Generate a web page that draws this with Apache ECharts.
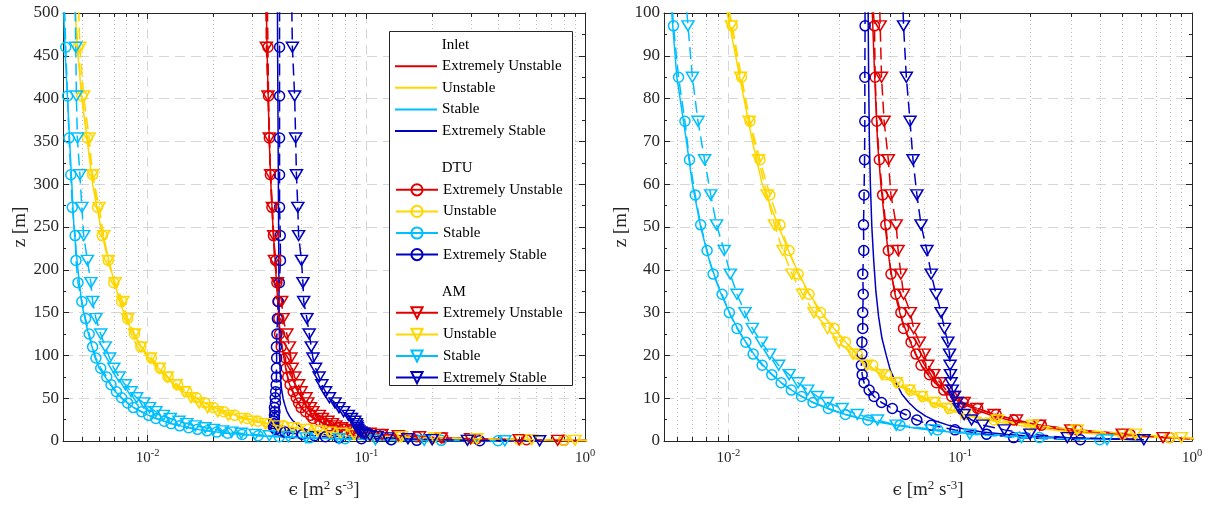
<!DOCTYPE html>
<html>
<head>
<meta charset="utf-8">
<script src="https://cdn.jsdelivr.net/npm/echarts@6/dist/echarts.min.js"></script>
<style>
  html, body { margin: 0; padding: 0; background: #ffffff; }
  #chart { width: 1210px; height: 506px; }
</style>
</head>
<body>
<div id="chart"></div>
<script>
// ---- Heights [m] of the simulated cell centres (DTU and AM share the mesh) ----
const zLevels = [525, 460, 403, 354, 311, 273, 240, 211, 185, 163, 143, 125, 110, 97, 85, 74.7, 65.7, 57.5, 50.5, 44.5,
  39, 34.3, 30, 26.3, 23.1, 20.3, 17.7, 15.5, 13.6, 11.9, 10.4, 9.0, 7.6, 6.2, 4.9, 3.7, 2.6, 1.6, 0.8, 0.3];

// ---- Heights [m] of the inlet profiles ----
const inletZ = [525, 450, 400, 350, 300, 250, 200, 160, 130, 100, 85, 70, 60, 50, 42, 35, 29, 24, 20, 16.5,
  13.5, 11, 9, 7.2, 5.8, 4.6, 3.6, 2.8, 2.1, 1.5, 1.0, 0.7, 0.5, 0.3];

// ---- Dissipation rate epsilon [m^2 s^-3] ----
const inletExtUnstable = [0.0348, 0.0352, 0.0356, 0.036, 0.0366, 0.0374, 0.0385, 0.0394, 0.0402, 0.0418,
  0.0428, 0.044, 0.0455, 0.0475, 0.0495, 0.052, 0.0555, 0.06, 0.0645, 0.07,
  0.078, 0.088, 0.1, 0.118, 0.14, 0.17, 0.21, 0.26, 0.33, 0.44, 0.62, 0.85, 1.15, 1.9];
const inletUnstable = [0.0046, 0.0048, 0.005, 0.0053, 0.0056, 0.0061, 0.0068, 0.0075, 0.0084, 0.0099,
  0.0112, 0.0127, 0.014, 0.0165, 0.019, 0.022, 0.026, 0.031, 0.036, 0.043,
  0.052, 0.063, 0.075, 0.09, 0.11, 0.14, 0.18, 0.23, 0.3, 0.42, 0.6, 0.85, 1.15, 1.9];
const inletStable = [0.0041, 0.0042, 0.0043, 0.0044, 0.0045, 0.0046, 0.0048, 0.005, 0.0053, 0.0057,
  0.006, 0.0066, 0.007, 0.0076, 0.0083, 0.0092, 0.0103, 0.0116, 0.013, 0.0148,
  0.017, 0.0198, 0.0232, 0.028, 0.034, 0.042, 0.054, 0.068, 0.09, 0.125, 0.19, 0.27, 0.38, 0.62];
const inletExtStable = [0.0392, 0.0393, 0.0394, 0.0395, 0.0396, 0.0397, 0.0398, 0.0399, 0.04, 0.0401,
  0.0403, 0.0406, 0.041, 0.0416, 0.0424, 0.0433, 0.0445, 0.046, 0.048, 0.05,
  0.053, 0.056, 0.06, 0.065, 0.071, 0.079, 0.09, 0.104, 0.125, 0.16, 0.22, 0.3, 0.4, 0.62];

const dtuExtUnstable = [0.0352, 0.0355, 0.0357, 0.036, 0.0364, 0.037, 0.0376, 0.0385, 0.039, 0.0394,
  0.0398, 0.0401, 0.0408, 0.0427, 0.043, 0.0437, 0.0448, 0.0463, 0.0478, 0.049,
  0.0503, 0.0528, 0.0555, 0.057, 0.0614, 0.0645, 0.0678, 0.0737, 0.079, 0.085,
  0.092, 0.103, 0.119, 0.143, 0.17, 0.224, 0.32, 0.54, 0.8, 1.2];
const dtuUnstable = [0.0046, 0.0048, 0.005, 0.0053, 0.0056, 0.0059, 0.0062, 0.0066, 0.007, 0.0076,
  0.0081, 0.0087, 0.0093, 0.0104, 0.0114, 0.0124, 0.0137, 0.0151, 0.0167, 0.0183,
  0.02, 0.0223, 0.025, 0.0286, 0.032, 0.036, 0.042, 0.048, 0.054, 0.061,
  0.069, 0.078, 0.09, 0.105, 0.14, 0.2, 0.3, 0.5, 0.8, 1.3];
const dtuStable = [0.00415, 0.00422, 0.0043, 0.00437, 0.00445, 0.00452, 0.00466, 0.0047, 0.0048, 0.005,
  0.0052, 0.0054, 0.0056, 0.0058, 0.0061, 0.0065, 0.0068, 0.0072, 0.0076, 0.0081,
  0.0086, 0.0094, 0.0101, 0.0109, 0.0119, 0.0128, 0.014, 0.0154, 0.0169, 0.0187,
  0.0207, 0.0232, 0.027, 0.032, 0.04, 0.055, 0.08, 0.13, 0.22, 0.4];
const dtuExtStable = [0.0401, 0.0401, 0.0401, 0.0401, 0.0401, 0.0401, 0.0404, 0.0405, 0.04, 0.0396,
  0.0392, 0.039, 0.0388, 0.0389, 0.0388, 0.0388, 0.0387, 0.0385, 0.0383, 0.0384,
  0.038, 0.0382, 0.038, 0.038, 0.0377, 0.0377, 0.0375, 0.0378, 0.0385, 0.0405,
  0.0425, 0.0458, 0.051, 0.058, 0.065, 0.075, 0.095, 0.13, 0.17, 0.33];

const amExtUnstable = [0.0347, 0.0349, 0.0355, 0.036, 0.0365, 0.0372, 0.0377, 0.038, 0.0392, 0.041,
  0.0416, 0.0433, 0.0445, 0.0452, 0.0458, 0.047, 0.049, 0.0503, 0.053, 0.054,
  0.0555, 0.057, 0.061, 0.063, 0.0667, 0.07, 0.0725, 0.077, 0.082, 0.087,
  0.094, 0.104, 0.118, 0.14, 0.175, 0.22, 0.3, 0.5, 0.75, 1.1];
const amUnstable = [0.0048, 0.0049, 0.0051, 0.0054, 0.0056, 0.006, 0.0063, 0.0066, 0.0071, 0.0077,
  0.0081, 0.0087, 0.0093, 0.0103, 0.0113, 0.0123, 0.0135, 0.0147, 0.0158, 0.0172,
  0.0188, 0.0209, 0.0234, 0.0268, 0.03, 0.0345, 0.0395, 0.046, 0.053, 0.06,
  0.068, 0.077, 0.088, 0.105, 0.145, 0.205, 0.32, 0.57, 0.9, 1.4];
const amStable = [0.00465, 0.00469, 0.00472, 0.00477, 0.0049, 0.005, 0.0051, 0.0053, 0.0055, 0.0056,
  0.0058, 0.0061, 0.0064, 0.0067, 0.007, 0.0074, 0.0079, 0.0084, 0.0089, 0.0096,
  0.0102, 0.0109, 0.0118, 0.0127, 0.0139, 0.0151, 0.0165, 0.0183, 0.02, 0.022,
  0.0242, 0.0268, 0.031, 0.036, 0.044, 0.053, 0.075, 0.11, 0.184, 0.43];
const amExtStable = [0.0455, 0.0459, 0.047, 0.0475, 0.0479, 0.0486, 0.049, 0.0505, 0.0513, 0.0517,
  0.0535, 0.0548, 0.056, 0.057, 0.0586, 0.0608, 0.0626, 0.0651, 0.0678, 0.0719,
  0.075, 0.0787, 0.0828, 0.0855, 0.0885, 0.09, 0.0905, 0.0908, 0.0914, 0.0925,
  0.0945, 0.097, 0.099, 0.104, 0.112, 0.125, 0.155, 0.2, 0.29, 0.62];

// ---- Stability classes and legend groups ----
const conditionNames = ['Extremely Unstable', 'Unstable', 'Stable', 'Extremely Stable'];
const conditionColors = ['#e00000', '#ffd700', '#00bfff', '#0000bf'];
const groupNames = ['Inlet', 'DTU', 'AM'];

// ---- Minor (2..9 x 10^n) positions on the log axes ----
const minorTicksLeft = [0.005, 0.006, 0.007, 0.008, 0.009, 0.02, 0.03, 0.04, 0.05, 0.06, 0.07, 0.08, 0.09,
  0.2, 0.3, 0.4, 0.5, 0.6, 0.7, 0.8, 0.9];
const minorTicksRight = [0.006, 0.007, 0.008, 0.009, 0.02, 0.03, 0.04, 0.05, 0.06, 0.07, 0.08, 0.09,
  0.2, 0.3, 0.4, 0.5, 0.6, 0.7, 0.8, 0.9];

// ---- Styling ----
const FONT = "'Liberation Serif', 'DejaVu Serif', serif";
const AXIS = '#262626';
const GRID = '#d6d6d6';
const MINOR_GRID = '#bdbdbd';

const groups = [
  { key: groupNames[0], z: inletZ, sets: [inletExtUnstable, inletUnstable, inletStable, inletExtStable],
    symbol: 'none', size: 0, rotate: 0, dashed: false },
  { key: groupNames[1], z: zLevels, sets: [dtuExtUnstable, dtuUnstable, dtuStable, dtuExtStable],
    symbol: 'circle', size: 10, rotate: 0, dashed: true },
  { key: groupNames[2], z: zLevels, sets: [amExtUnstable, amUnstable, amStable, amExtStable],
    symbol: 'triangle', size: [12, 10], rotate: 180, dashed: true }
];

const panels = [
  { xMin: 0.0041, yMax: 500, yStep: 50, minor: minorTicksLeft, grid: { left: 63, top: 13, width: 522, height: 428 } },
  { xMin: 0.00528, yMax: 100, yStep: 10, minor: minorTicksRight, grid: { left: 664, top: 13, width: 528, height: 428 } }
];

function pairs(xs, zs) { return xs.map((x, i) => [x, zs[i]]); }

function decadeLabel(v) {
  const e = Math.log10(v);
  const r = Math.round(e);
  if (Math.abs(e - r) > 1e-6) return '';
  return '{b|10}{s|' + r + '}';
}

// Dotted minor grid line plus inward minor ticks on bottom and top border
function minorGridItem(params, api) {
  const lo = api.coord([api.value(0), api.value(1)]);
  const hi = api.coord([api.value(0), api.value(2)]);
  const x = Math.round(lo[0]) + 0.5;
  return {
    type: 'group',
    children: [
      { type: 'line', shape: { x1: x, y1: lo[1], x2: x, y2: hi[1] },
        style: { stroke: MINOR_GRID, lineWidth: 1, lineDash: [1, 3] } },
      { type: 'line', shape: { x1: x, y1: lo[1], x2: x, y2: lo[1] - 4 },
        style: { stroke: AXIS, lineWidth: 1 } },
      { type: 'line', shape: { x1: x, y1: hi[1], x2: x, y2: hi[1] + 4 },
        style: { stroke: AXIS, lineWidth: 1 } }
    ]
  };
}

const tickRich = {
  b: { fontFamily: FONT, fontSize: 15, color: AXIS },
  s: { fontFamily: FONT, fontSize: 10.5, color: AXIS, padding: [0, 0, 9, 0] }
};
const nameRich = {
  e: { fontFamily: "'DejaVu Serif', serif", fontSize: 17, color: AXIS },
  s: { fontFamily: FONT, fontSize: 13, color: AXIS, padding: [0, 0, 10, 0] }
};

const grids = [], xAxes = [], yAxes = [], series = [];

panels.forEach((p, pi) => {
  grids.push(Object.assign({ containLabel: false }, p.grid));

  // bottom (labelled) and top (box) log axes
  xAxes.push({
    type: 'log', logBase: 10, gridIndex: pi, min: p.xMin, max: 1, position: 'bottom',
    axisLine: { show: true, onZero: false, lineStyle: { color: AXIS, width: 1 } },
    axisTick: { show: true, inside: true, length: 6, lineStyle: { color: AXIS } },
    axisLabel: { show: true, margin: 7, formatter: decadeLabel, rich: tickRich },
    splitLine: { show: true, lineStyle: { color: GRID, width: 1, type: [10, 6] } },
    name: '{e|ϵ} [m{s|2} s{s|-3}]', nameLocation: 'middle', nameGap: 38,
    nameTextStyle: { fontFamily: FONT, fontSize: 19, color: AXIS, rich: nameRich }
  });
  xAxes.push({
    type: 'log', logBase: 10, gridIndex: pi, min: p.xMin, max: 1, position: 'top',
    axisLine: { show: true, onZero: false, lineStyle: { color: AXIS, width: 1 } },
    axisTick: { show: true, inside: true, length: 6, lineStyle: { color: AXIS } },
    axisLabel: { show: false }, splitLine: { show: false }
  });

  // left (labelled) and right (box) value axes
  yAxes.push({
    type: 'value', gridIndex: pi, min: 0, max: p.yMax, interval: p.yStep, position: 'left',
    axisLine: { show: true, onZero: false, lineStyle: { color: AXIS, width: 1 } },
    axisTick: { show: true, inside: true, length: 6, lineStyle: { color: AXIS } },
    minorTick: { show: true, splitNumber: 2, length: 3, lineStyle: { color: AXIS } },
    axisLabel: { color: AXIS, fontFamily: FONT, fontSize: 17, margin: 4 },
    splitLine: { show: true, lineStyle: { color: GRID, width: 1, type: [10, 6] } },
    name: 'z [m]', nameLocation: 'middle', nameGap: 33, nameRotate: 90,
    nameTextStyle: { fontFamily: FONT, fontSize: 19, color: AXIS }
  });
  yAxes.push({
    type: 'value', gridIndex: pi, min: 0, max: p.yMax, interval: p.yStep, position: 'right',
    axisLine: { show: true, onZero: false, lineStyle: { color: AXIS, width: 1 } },
    axisTick: { show: true, inside: true, length: 6, lineStyle: { color: AXIS } },
    minorTick: { show: true, splitNumber: 2, length: 3, lineStyle: { color: AXIS } },
    axisLabel: { show: false }, splitLine: { show: false }
  });

  series.push({
    type: 'custom', xAxisIndex: 2 * pi, yAxisIndex: 2 * pi, silent: true, z: 1, clip: false,
    encode: { x: 0, y: 1 },
    data: p.minor.map(v => [v, 0, p.yMax]),
    renderItem: minorGridItem
  });

  groups.forEach((g, gi) => {
    g.sets.forEach((set, ci) => {
      const c = conditionColors[ci];
      series.push({
        name: g.key + '|' + conditionNames[ci],
        type: 'line', xAxisIndex: 2 * pi, yAxisIndex: 2 * pi,
        data: pairs(set, g.z),
        symbol: g.symbol, symbolSize: g.size, symbolRotate: g.rotate,
        showSymbol: g.symbol !== 'none',
        lineStyle: { color: c, width: 1.5, type: g.dashed ? [12, 6] : 'solid' },
        itemStyle: { color: g.symbol === 'none' ? c : 'transparent', borderColor: c, borderWidth: 1.5 },
        clip: true, silent: true, z: 3 + gi,
        emphasis: { disabled: true }
      });
    });
  });
});

// legend: one block per group inside a shared white frame
const legendTops = [58.7, 182.3, 305.3];
const legendTitleY = [45, 168.3, 291.7];
const legends = groups.map((g, gi) => {
  const plain = g.symbol === 'none';
  const lg = {
    orient: 'vertical', left: 395, top: legendTops[gi], padding: 0,
    itemWidth: 42, itemHeight: plain ? 2 : 14, itemGap: 6.6,
    selectedMode: false, z: 30,
    data: conditionNames.map(cn => g.key + '|' + cn),
    formatter: n => n.split('|')[1],
    lineStyle: { type: 'solid' },
    textStyle: { fontFamily: FONT, fontSize: 15, color: '#000', lineHeight: 14 }
  };
  if (plain) {
    lg.icon = 'rect';
    lg.itemStyle = { borderWidth: 0 };
  }
  return lg;
});

const graphics = [
  { type: 'rect', z: 20, silent: true,
    shape: { x: 389.5, y: 31.5, width: 183, height: 354 },
    style: { fill: '#ffffff', stroke: AXIS, lineWidth: 1 } }
].concat(groupNames.map((t, i) => ({
  type: 'text', z: 31, silent: true, x: 441.7, y: legendTitleY[i],
  style: { text: t, fontFamily: FONT, fontSize: 15, fill: '#000', verticalAlign: 'middle' }
})));

const chart = echarts.init(document.getElementById('chart'), null, { renderer: 'canvas' });
chart.setOption({
  backgroundColor: '#ffffff',
  animation: false,
  grid: grids,
  xAxis: xAxes,
  yAxis: yAxes,
  legend: legends,
  graphic: graphics,
  series: series
});
</script>
</body>
</html>
